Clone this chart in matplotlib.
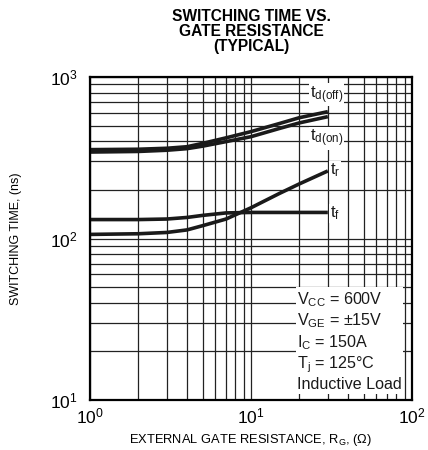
import matplotlib
matplotlib.use("Agg")
import matplotlib.pyplot as plt
from matplotlib.ticker import LogLocator, NullFormatter

plt.rcParams["font.family"] = ["Liberation Sans", "DejaVu Sans"]
plt.rcParams["mathtext.fontset"] = "custom"
plt.rcParams["mathtext.rm"] = "Liberation Sans"
plt.rcParams["mathtext.it"] = "Liberation Sans"

# gate resistance (ohm) and switching times (ns)
rg = [1, 2, 3, 4, 5, 7, 10, 15, 20, 30]
td_off = [355, 357, 362, 370, 388, 420, 459, 515, 560, 610]
td_on = [343, 346, 352, 360, 373, 398, 427, 480, 520, 568]
tr = [106, 107, 109, 113, 120, 132, 155, 190, 218, 262]
tf = [131, 131, 132, 135, 139, 144, 145, 145, 145, 145]

cond = ["$\\mathregular{V_{CC}}$ = 600V", "$\\mathregular{V_{GE}}$ = \u00b115V",
        "$\\mathregular{I_C}$ = 150A", "$\\mathregular{T_j}$ = 125\u00b0C", "Inductive Load"]

fig = plt.figure(figsize=(4.28, 4.5), dpi=100)
ax = fig.add_axes([90 / 428, 1 - 400 / 450, 322 / 428, 323 / 450])
ax.set_xscale("log")
ax.set_yscale("log")
ax.set_xlim(1, 100)
ax.set_ylim(10, 1000)

for s in (td_off, td_on, tr, tf):
    ax.plot(rg, s, color="#1a1a1a", lw=2.6, solid_capstyle="butt", zorder=3)

for a in (ax.xaxis, ax.yaxis):
    a.set_major_locator(LogLocator(base=10))
    a.set_minor_locator(LogLocator(base=10, subs=range(2, 10)))
    a.set_minor_formatter(NullFormatter())
ax.grid(True, which="both", color="#222222", lw=0.9)
ax.tick_params(which="both", direction="in", labelsize=12.5, length=0)
ax.tick_params(axis="y", pad=9)
ax.tick_params(axis="x", pad=5)
for sp in ax.spines.values():
    sp.set_linewidth(1.6)
    sp.set_zorder(4)

box = dict(facecolor="white", edgecolor="none", pad=0.5)
kw = dict(fontsize=12, color="#1a1a1a", bbox=box, zorder=5)
ax.text(23.3, 905, "$\\mathregular{t_{d(off)}}$", ha="left", va="top", **kw)
ax.text(23.3, 485, "$\\mathregular{t_{d(on)}}$", ha="left", va="top", **kw)
ax.text(31, 265, "$\\mathregular{t_r}$", ha="left", va="center", **kw)
ax.text(31, 143, "$\\mathregular{t_f}$", ha="left", va="center", **kw)

ax.text(19.3, 48, "\n".join(cond), ha="left", va="top", fontsize=11.6,
        color="#1a1a1a", linespacing=1.2, bbox=dict(facecolor="white", edgecolor="none", pad=1), zorder=5)

fig.text(251 / 428, 1 - 9 / 450, "SWITCHING TIME VS.\nGATE RESISTANCE\n(TYPICAL)",
         ha="center", va="top", fontsize=11.2, fontweight="bold", linespacing=1.0)
ax.set_xlabel("EXTERNAL GATE RESISTANCE, $\\mathregular{R_G}$, (\u03a9)", fontsize=9.3, labelpad=4)
ax.set_ylabel("SWITCHING TIME, (ns)", fontsize=9, labelpad=20)

fig.savefig("out.png", dpi=100)
